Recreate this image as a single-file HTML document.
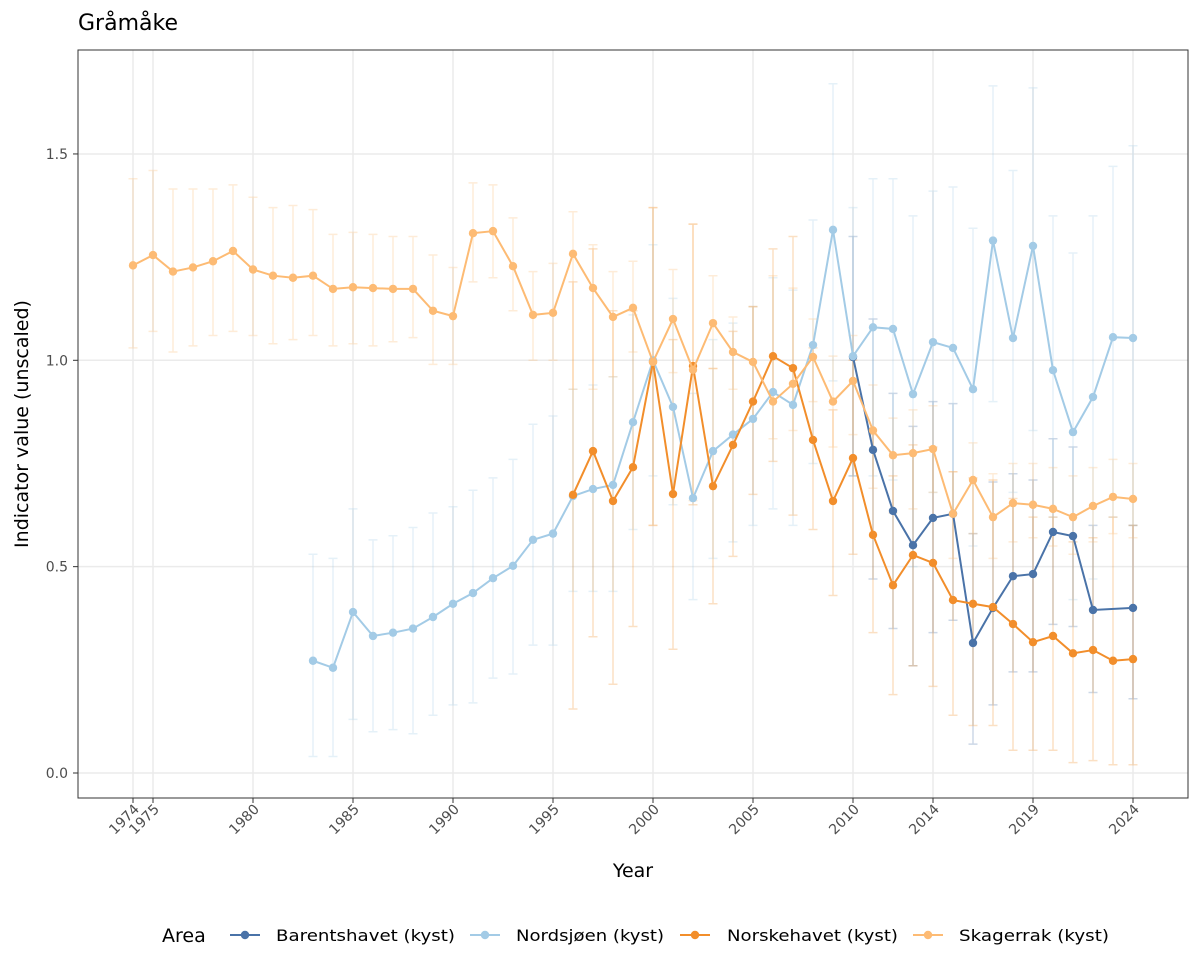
<!DOCTYPE html>
<html><head><meta charset="utf-8"><title>Gråmåke</title>
<style>
html,body{margin:0;padding:0;background:#fff;}
svg{display:block;font-family:"DejaVu Sans","Liberation Sans",sans-serif;}
</style></head>
<body>
<svg id="chart" width="1200" height="975" viewBox="0 0 1200 975">
<text x="78" y="30" font-size="22" fill="#000">Gråmåke</text>
<g id="grid"></g>
<g id="marks"></g>
<rect x="78" y="50" width="1110" height="748" fill="none" stroke="#333" stroke-width="1"/>
<g id="axes"></g>
<text x="633" y="877" font-size="19" text-anchor="middle" fill="#000">Year</text>
<text transform="translate(28,424) rotate(-90)" font-size="19" text-anchor="middle" fill="#000">Indicator value (unscaled)</text>
<g id="legend"></g>
</svg>
<script>
const xTicks = [1974,1975,1980,1985,1990,1995,2000,2005,2010,2014,2019,2024];
const yTicks = [0,0.5,1,1.5];
const seriesNames = ["Barentshavet (kyst)","Nordsjøen (kyst)","Norskehavet (kyst)","Skagerrak (kyst)"];
const seriesColors = ["#4a73a8","#a3cbe6","#f28e2b","#fdbb74"];

const barYears = [2010,2011,2012,2013,2014,2015,2016,2017,2018,2019,2020,2021,2022,2024];
const barVals = [1.008,0.783,0.635,0.552,0.618,0.628,0.315,0.4,0.477,0.482,0.584,0.574,0.395,0.4];
const barLo = [0.72,0.47,0.35,0.26,0.34,0.37,0.07,0.165,0.245,0.245,0.36,0.355,0.195,0.18];
const barHi = [1.3,1.1,0.92,0.84,0.9,0.895,0.58,0.705,0.725,0.71,0.81,0.79,0.6,0.6];

const nsYears = [1983,1984,1985,1986,1987,1988,1989,1990,1991,1992,1993,1994,1995,1996,1997,1998,1999,2000,2001,2002,2003,2004,2005,2006,2007,2008,2009,2010,2011,2012,2013,2014,2015,2016,2017,2018,2019,2020,2021,2022,2023,2024];
const nsVals = [0.272,0.255,0.39,0.332,0.34,0.35,0.378,0.41,0.436,0.472,0.502,0.565,0.58,0.671,0.688,0.698,0.85,1.0,0.887,0.666,0.78,0.82,0.858,0.923,0.892,1.037,1.316,1.01,1.08,1.076,0.918,1.044,1.03,0.93,1.29,1.054,1.277,0.976,0.826,0.911,1.056,1.054];
const nsLo = [0.04,0.04,0.13,0.1,0.105,0.095,0.14,0.165,0.17,0.23,0.24,0.31,0.31,0.44,0.44,0.44,0.59,0.72,0.65,0.42,0.52,0.56,0.6,0.64,0.6,0.75,0.95,0.72,0.72,0.71,0.5,0.68,0.63,0.55,0.9,0.68,0.83,0.62,0.42,0.47,0.62,0.6];
const nsHi = [0.53,0.52,0.64,0.565,0.575,0.595,0.63,0.645,0.685,0.715,0.76,0.845,0.865,0.93,0.94,0.96,1.11,1.28,1.15,0.92,1.05,1.09,1.13,1.2,1.17,1.34,1.67,1.37,1.44,1.44,1.35,1.41,1.42,1.32,1.665,1.46,1.66,1.35,1.26,1.35,1.47,1.52];

const nhYears = [1996,1997,1998,1999,2000,2001,2002,2003,2004,2005,2006,2007,2008,2009,2010,2011,2012,2013,2014,2015,2016,2017,2018,2019,2020,2021,2022,2023,2024];
const nhVals = [0.674,0.78,0.659,0.741,0.996,0.676,0.986,0.695,0.795,0.9,1.01,0.981,0.807,0.659,0.763,0.577,0.455,0.528,0.509,0.419,0.41,0.402,0.361,0.317,0.332,0.29,0.298,0.272,0.276];
const nhLo = [0.155,0.33,0.215,0.355,0.6,0.3,0.65,0.41,0.525,0.675,0.755,0.625,0.59,0.43,0.53,0.34,0.19,0.26,0.21,0.14,0.115,0.115,0.055,0.055,0.055,0.025,0.03,0.02,0.02];
const nhHi = [1.19,1.27,1.12,1.12,1.37,1.05,1.33,0.98,1.07,1.13,1.27,1.3,1.03,0.88,1.0,0.82,0.72,0.795,0.79,0.73,0.715,0.71,0.665,0.62,0.62,0.56,0.57,0.62,0.6];

const skYears = [1974,1975,1976,1977,1978,1979,1980,1981,1982,1983,1984,1985,1986,1987,1988,1989,1990,1991,1992,1993,1994,1995,1996,1997,1998,1999,2000,2001,2002,2003,2004,2005,2006,2007,2008,2009,2010,2011,2012,2013,2014,2015,2016,2017,2018,2019,2020,2021,2022,2023,2024];
const skVals = [1.23,1.255,1.215,1.225,1.24,1.265,1.22,1.205,1.2,1.205,1.173,1.177,1.175,1.173,1.173,1.12,1.107,1.308,1.313,1.228,1.11,1.115,1.258,1.175,1.105,1.127,0.996,1.1,0.977,1.09,1.02,0.996,0.9,0.943,1.008,0.9,0.95,0.83,0.77,0.775,0.785,0.628,0.71,0.62,0.654,0.65,0.64,0.62,0.647,0.669,0.664];
const skLo = [1.03,1.07,1.02,1.035,1.06,1.07,1.06,1.04,1.05,1.06,1.035,1.04,1.035,1.045,1.055,0.99,0.99,1.19,1.2,1.12,1.0,1.0,0.93,0.93,0.96,1.02,0.6,0.97,0.66,0.98,0.93,0.86,0.81,0.83,0.9,0.79,0.82,0.69,0.63,0.64,0.68,0.52,0.58,0.52,0.56,0.57,0.55,0.53,0.56,0.58,0.57];
const skHi = [1.44,1.46,1.415,1.415,1.415,1.425,1.395,1.37,1.375,1.365,1.305,1.31,1.305,1.3,1.3,1.255,1.225,1.43,1.425,1.345,1.215,1.235,1.36,1.28,1.215,1.24,1.37,1.22,1.33,1.205,1.105,1.13,1.205,1.175,1.1,1.01,1.06,0.94,0.86,0.88,0.89,0.73,0.8,0.725,0.75,0.75,0.74,0.72,0.74,0.76,0.75];

const NS = "http://www.w3.org/2000/svg";
const X = y => 133 + (y - 1974) * 20;
const Y = v => 773 - v * 412.7;
function mk(tag, attrs, parent){const e=document.createElementNS(NS,tag);for(const k in attrs)e.setAttribute(k,attrs[k]);parent.appendChild(e);return e;}

const grid = document.getElementById('grid');
const axes = document.getElementById('axes');
yTicks.forEach(t=>{
  const l = mk('line',{x1:78,x2:1188,y1:Y(t),y2:Y(t),stroke:'#ebebeb','stroke-width':1.5},grid);
  
  
  mk('line',{x1:73,x2:78,y1:Y(t),y2:Y(t),stroke:'#333'},axes);
  const tx = mk('text',{x:68,y:Y(t)+5,'font-size':14,'text-anchor':'end',fill:'#4d4d4d'},axes);
  tx.textContent = t.toFixed(1);
  
  
});
xTicks.forEach(t=>{
  const l = mk('line',{x1:X(t),x2:X(t),y1:50,y2:798,stroke:'#ebebeb','stroke-width':1.5},grid);
  
  
  mk('line',{x1:X(t),x2:X(t),y1:798,y2:803,stroke:'#333'},axes);
  const tx = mk('text',{transform:`translate(${X(t)+7},${810}) rotate(-45)`,'font-size':14,'text-anchor':'end',fill:'#4d4d4d'},axes);
  tx.textContent = t;
  
  
});

const marks = document.getElementById('marks');
const all = [[barYears,barVals,barLo,barHi],[nsYears,nsVals,nsLo,nsHi],[nhYears,nhVals,nhLo,nhHi],[skYears,skVals,skLo,skHi]];
all.forEach((s,i)=>{
  const [ys,vs,lo,hi] = s; const c = seriesColors[i];
  const g = mk('g',{},marks);
  
  
  ys.forEach((yr,j)=>{
    const x=X(yr), a=Y(lo[j]), b=Y(hi[j]);
    const e = mk('path',{d:`M${x},${a}V${b}M${x-4.5},${a}H${x+4.5}M${x-4.5},${b}H${x+4.5}`,stroke:c,'stroke-opacity':0.28,'stroke-width':1.5,fill:'none'},g);
    
    
  });
});
all.forEach((s,i)=>{
  const [ys,vs] = s; const c = seriesColors[i];
  const g = mk('g',{},marks);
  const ln = mk('polyline',{points:ys.map((yr,j)=>X(yr)+','+Y(vs[j])).join(' '),fill:'none',stroke:c,'stroke-width':2},g);
  
  
  ys.forEach((yr,j)=>{
    const p = mk('circle',{cx:X(yr),cy:Y(vs[j]),r:4.2,fill:c},g);
    
    
  });
});

const leg = document.getElementById('legend');
const lt = mk('text',{x:162,y:942,'font-size':19,fill:'#000'},leg);
lt.textContent='Area';


const keyX = [230,470,680,913];
const textX = [276,516,727,959];
const textW = [179,148,171,150];
seriesNames.forEach((n,i)=>{
  const g = mk('g',{},leg);
  
  
  mk('line',{x1:keyX[i],x2:keyX[i]+30,y1:935,y2:935,stroke:seriesColors[i],'stroke-width':2},g);
  mk('circle',{cx:keyX[i]+15,cy:935,r:4.2,fill:seriesColors[i]},g);
  const t = mk('text',{x:textX[i],y:941,'font-size':16,fill:'#000',textLength:textW[i],lengthAdjust:'spacingAndGlyphs'},g);
  t.textContent = n;
});
</script>
</body></html>
